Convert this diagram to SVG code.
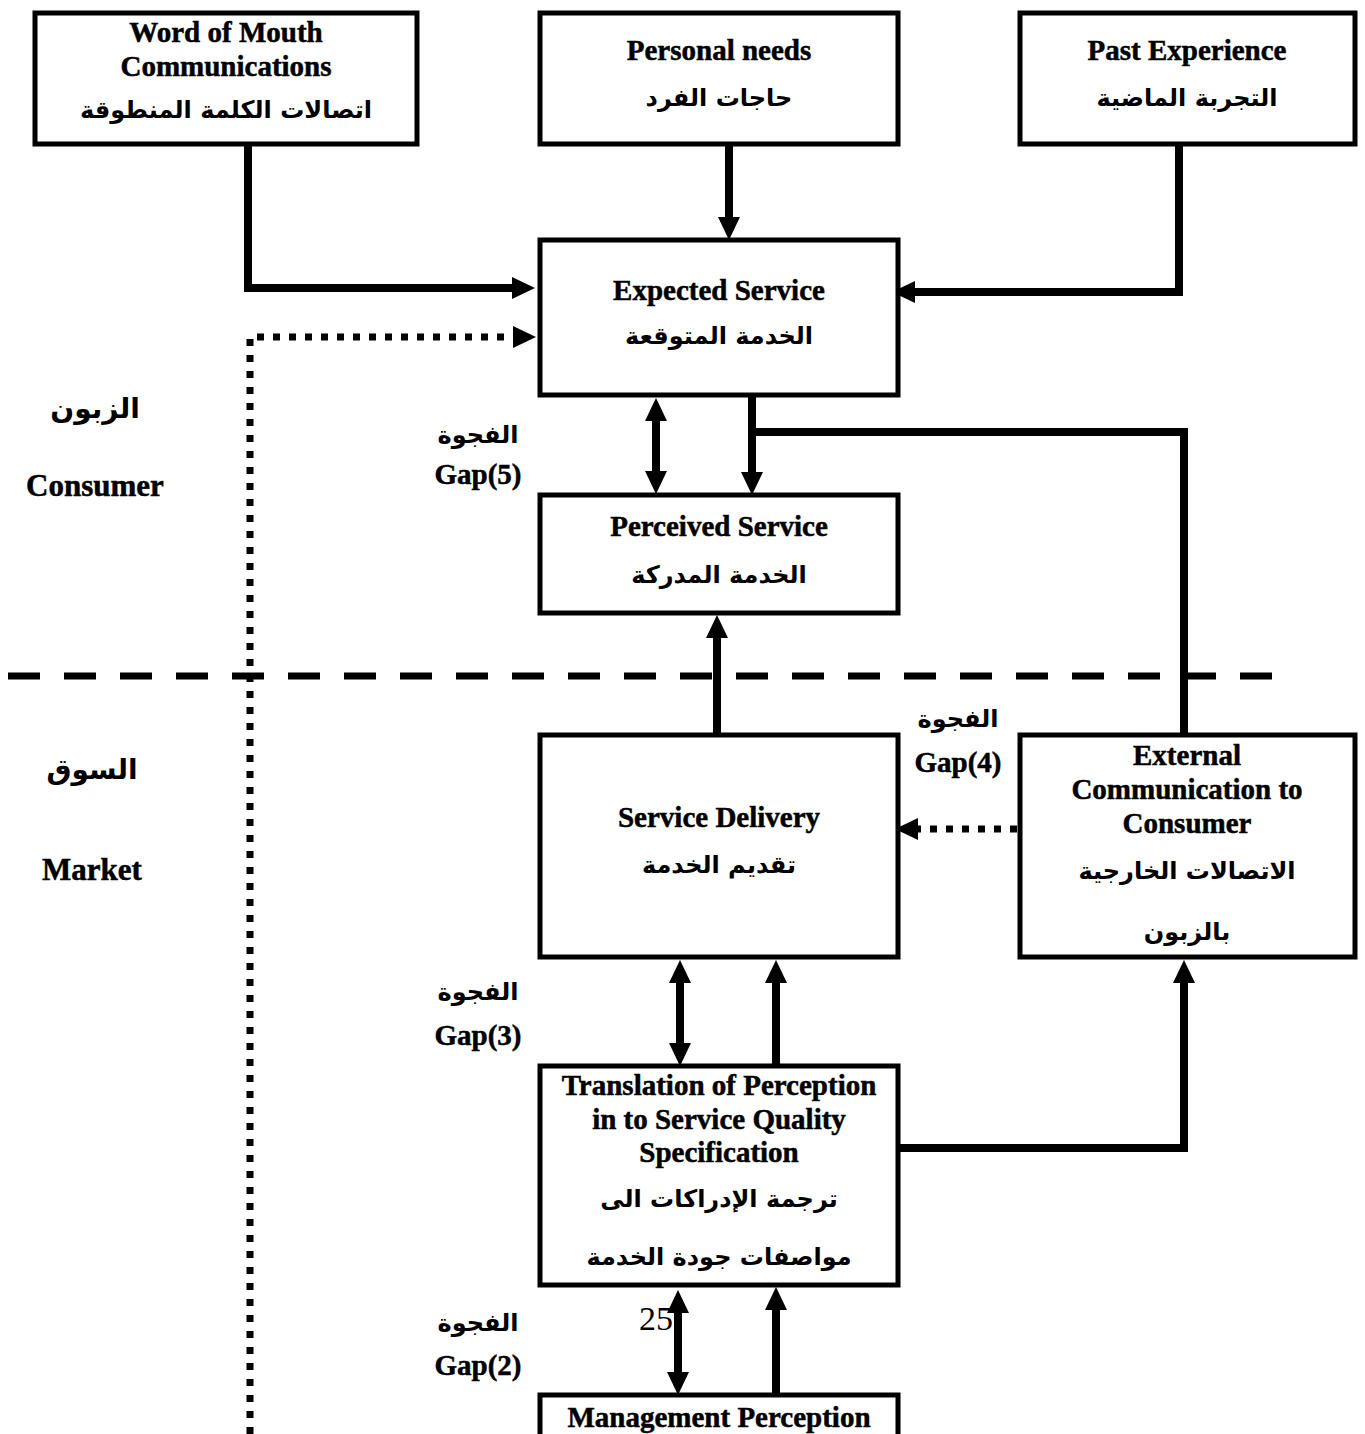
<svg xmlns="http://www.w3.org/2000/svg" width="1365" height="1434" viewBox="0 0 1365 1434">
<style>
.box{fill:#fff;stroke:#000;stroke-width:5}
.en{font-family:"Liberation Serif","Times New Roman",serif;font-weight:bold;font-size:29px;text-anchor:middle;fill:#000;stroke:#000;stroke-width:0.5}
.ar{font-family:"DejaVu Sans","Noto Sans",sans-serif;font-weight:bold;font-size:24px;text-anchor:middle;fill:#000}
.ln{fill:none;stroke:#000;stroke-width:8}
.dot{fill:none;stroke:#000;stroke-width:7;stroke-dasharray:7 9}
.dash{fill:none;stroke:#000;stroke-width:7;stroke-dasharray:32 24}
</style>
<defs>
<marker id="ah" markerUnits="userSpaceOnUse" markerWidth="24" markerHeight="24" refX="0" refY="11" orient="auto-start-reverse" viewBox="0 0 24 22">
<path d="M0,0 L23,11 L0,22 z" fill="#000"/>
</marker>
</defs>
<rect width="1365" height="1434" fill="#fff"/>

<g id="connectors">
<path class="dash" d="M8,676 H1275"/>
<path class="dot" d="M250,1434 V337 H513" marker-end="url(#ah)"/>
<path class="ln" d="M248,144 V288 H512" marker-end="url(#ah)"/>
<path class="ln" d="M729,144 V217" marker-end="url(#ah)"/>
<path class="ln" d="M1179,144 V292 H915" marker-end="url(#ah)"/>
<path class="ln" d="M656,421 V471" marker-start="url(#ah)" marker-end="url(#ah)"/>
<path class="ln" d="M752,397 V472" marker-end="url(#ah)"/>
<path class="ln" d="M748,432 H1184 V735"/>
<path class="ln" d="M717,735 V638" marker-end="url(#ah)"/>
<path class="dot" d="M1017,829 H918" marker-end="url(#ah)"/>
<path class="ln" d="M680,983 V1043" marker-start="url(#ah)" marker-end="url(#ah)"/>
<path class="ln" d="M776,1066 V983" marker-end="url(#ah)"/>
<path class="ln" d="M898,1148 H1184 V983" marker-end="url(#ah)"/>
<path class="ln" d="M678,1313 V1372" marker-start="url(#ah)" marker-end="url(#ah)"/>
<path class="ln" d="M776,1395 V1310" marker-end="url(#ah)"/>
</g>

<g id="word-of-mouth">
<rect class="box" x="35" y="13" width="382" height="131"/>
<text class="en" x="226" y="42">Word of Mouth</text>
<text class="en" x="226" y="76">Communications</text>
<text class="ar" x="226" y="118">اتصالات الكلمة المنطوقة</text>
</g>
<g id="personal-needs">
<rect class="box" x="540" y="13" width="358" height="131"/>
<text class="en" x="719" y="60">Personal needs</text>
<text class="ar" x="719" y="106">حاجات الفرد</text>
</g>
<g id="past-experience">
<rect class="box" x="1020" y="13" width="335" height="131"/>
<text class="en" x="1187" y="60">Past Experience</text>
<text class="ar" x="1187" y="106">التجربة الماضية</text>
</g>
<g id="expected-service">
<rect class="box" x="540" y="240" width="358" height="155"/>
<text class="en" x="719" y="300">Expected Service</text>
<text class="ar" x="719" y="344">الخدمة المتوقعة</text>
</g>
<g id="perceived-service">
<rect class="box" x="540" y="495" width="358" height="118"/>
<text class="en" x="719" y="536">Perceived Service</text>
<text class="ar" x="719" y="583">الخدمة المدركة</text>
</g>
<g id="service-delivery">
<rect class="box" x="540" y="735" width="358" height="222"/>
<text class="en" x="719" y="827">Service Delivery</text>
<text class="ar" x="719" y="873">تقديم الخدمة</text>
</g>
<g id="external-communication">
<rect class="box" x="1020" y="735" width="335" height="222"/>
<text class="en" x="1187" y="765">External</text>
<text class="en" x="1187" y="799">Communication to</text>
<text class="en" x="1187" y="833">Consumer</text>
<text class="ar" x="1187" y="879">الاتصالات الخارجية</text>
<text class="ar" x="1187" y="940">بالزبون</text>
</g>
<g id="translation">
<rect class="box" x="540" y="1066" width="358" height="219"/>
<text class="en" x="719" y="1095">Translation of Perception</text>
<text class="en" x="719" y="1129">in to Service Quality</text>
<text class="en" x="719" y="1162">Specification</text>
<text class="ar" x="719" y="1207">ترجمة الإدراكات الى</text>
<text class="ar" x="719" y="1265">مواصفات جودة الخدمة</text>
</g>
<g id="management-perception">
<rect class="box" x="540" y="1395" width="358" height="60"/>
<text class="en" x="719" y="1427">Management Perception</text>
</g>

<g id="labels">
<text class="ar" x="95" y="418" style="font-size:28px">الزبون</text>
<text class="en" x="95" y="496" style="font-size:31px">Consumer</text>
<text class="ar" x="92" y="779" style="font-size:28px">السوق</text>
<text class="en" x="92" y="880" style="font-size:31px">Market</text>
<text class="ar" x="478" y="443">الفجوة</text>
<text class="en" x="478" y="484">Gap(5)</text>
<text class="ar" x="958" y="727">الفجوة</text>
<text class="en" x="958" y="772">Gap(4)</text>
<text class="ar" x="478" y="1000">الفجوة</text>
<text class="en" x="478" y="1045">Gap(3)</text>
<text class="ar" x="478" y="1331">الفجوة</text>
<text class="en" x="478" y="1375">Gap(2)</text>
<text x="656" y="1330" style="font-family:'Liberation Serif','Times New Roman',serif;font-size:34px;text-anchor:middle">25</text>
</g>
</svg>
